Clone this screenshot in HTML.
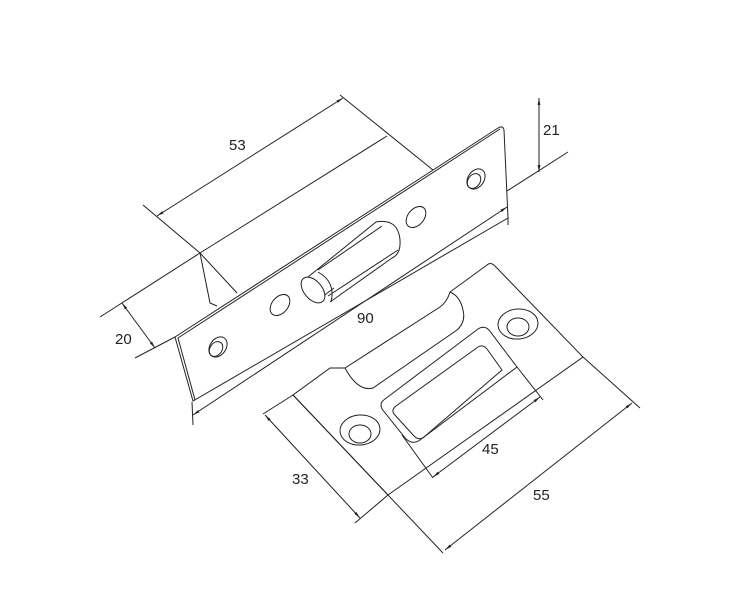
<!DOCTYPE html>
<html><head><meta charset="utf-8"><style>
html,body{margin:0;padding:0;background:#fff;}
svg{display:block;}
text{font-family:"Liberation Sans",sans-serif;font-size:15px;fill:#222;}
</style></head><body>
<svg width="751" height="607" viewBox="0 0 751 607" xmlns="http://www.w3.org/2000/svg">
<defs>
<marker id="a" viewBox="0 0 10 10" refX="10" refY="5" markerWidth="7" markerHeight="7" orient="auto-start-reverse"><path d="M0,3 L10,5 L0,7 z" fill="#222"/></marker>
</defs>
<g fill="none" stroke="#222" stroke-width="1">
<!-- body behind -->
<path d="M200,253 L387,136"/>
<path d="M200,253 L210,303 L217,306"/>
<path d="M200,253 L237,293"/>
<!-- faceplate -->
<path d="M175,337 L498,128 Q503,125 504,130 L508,218 L193,401 Z" fill="#fff"/>
<path d="M178,338 L500,129"/>
<path d="M178,338 L195,400"/>
<!-- dim 53 -->
<path d="M143,205 L200,253"/>
<path d="M340,95 L433,170"/>
<path d="M157,216 L343,98" marker-start="url(#a)" marker-end="url(#a)"/>
<!-- dim 20 -->
<path d="M100,317 L200,253"/>
<path d="M135,358 L175,337"/>
<path d="M122,303 L155,348" marker-start="url(#a)" marker-end="url(#a)"/>
<!-- dim 90 -->
<path d="M192,402 L193,425"/>
<path d="M508,218 L508,225"/>
<path d="M193,415 L507,207" marker-start="url(#a)" marker-end="url(#a)"/>
<path d="M507,191 L568,152"/>
<!-- dim 21 -->
<path d="M539,98 L539,172" marker-start="url(#a)" marker-end="url(#a)"/>
<!-- holes faceplate -->
<ellipse cx="218" cy="347" rx="8" ry="11" transform="rotate(35 218 347)"/>
<ellipse cx="216" cy="349" rx="6" ry="8" transform="rotate(35 216 349)"/>
<ellipse cx="280" cy="305" rx="8" ry="12" transform="rotate(40 280 305)"/>
<ellipse cx="416" cy="217" rx="8" ry="12" transform="rotate(40 416 217)"/>
<ellipse cx="476" cy="179" rx="8" ry="11" transform="rotate(35 476 179)"/>
<ellipse cx="474" cy="181" rx="6" ry="8" transform="rotate(35 474 181)"/>
<!-- bolt -->
<path d="M308,277 L376,222 Q398,218 400,240 Q401,254 392,258 L330,302" fill="#fff"/>
<path d="M318,270 L382,226"/>
<path d="M328,296 L398,250"/>
<path d="M318,300 L334,288"/>
<ellipse cx="313" cy="290" rx="9" ry="15" transform="rotate(-40 313 290)" fill="#fff"/>
<path d="M318,272 Q336,282 331,302"/>
<!-- strike plate -->
<path d="M487,265 Q490,262 494,265 L583,357 L388,495 L293,395 L330,368 L345,368 L440,307 Q447,302 450,292 L487,265 Z" fill="#fff"/>
<path d="M345,368 Q358,392 373,388 L457,330 Q466,322 463,310 Q460,296 450,292"/>
<!-- slot -->
<path d="M478,329 Q484,325 489,330 L517,367 L420,440 Q413,445 406,439 L382,409 Q379,403 385,399 Z"/>
<path d="M478,347 Q483,344 487,349 L502,370 L424,437 Q419,441 414,436 L394,414 Q391,410 396,406 Z"/>
<!-- strike holes -->
<ellipse cx="360" cy="430" rx="20" ry="15" transform="rotate(-5 360 430)"/>
<ellipse cx="360" cy="434" rx="11" ry="9"/>
<ellipse cx="518" cy="324" rx="20" ry="15" transform="rotate(-5 518 324)"/>
<ellipse cx="518" cy="327" rx="11" ry="9"/>
<!-- dim 33 -->
<path d="M263,414 L293,395"/>
<path d="M355,523 L388,495"/>
<path d="M265,415 L360,518" marker-start="url(#a)" marker-end="url(#a)"/>
<!-- dim 55 -->
<path d="M293,395 L443,553"/>
<path d="M583,357 L640,408"/>
<path d="M445,550 L632,403" marker-start="url(#a)" marker-end="url(#a)"/>
<!-- dim 45 -->
<path d="M402,435 L433,478"/>
<path d="M517,367 L543,400"/>
<path d="M433,477 L540,397" marker-start="url(#a)" marker-end="url(#a)"/>
</g>
<text x="229" y="150">53</text>
<text x="115" y="344">20</text>
<text x="357" y="323">90</text>
<text x="543" y="135">21</text>
<text x="292" y="484">33</text>
<text x="482" y="454">45</text>
<text x="533" y="500">55</text>
</svg>
</body></html>
